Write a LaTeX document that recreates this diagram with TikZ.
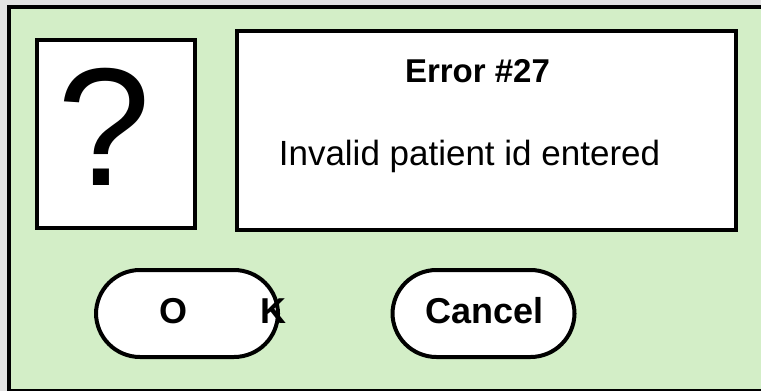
\documentclass[tikz,border=0pt]{standalone}
\usepackage{fontspec}
\setmainfont{Liberation Sans}
\definecolor{panelgreen}{RGB}{211,238,199}
\definecolor{outergrey}{RGB}{226,226,226}
\begin{document}
\begin{tikzpicture}[x=1pt,y=-1pt,
  box/.style={draw=black, line width=4.5pt, fill=white, inner sep=0pt},
  btn/.style={draw=black, line width=4pt, fill=white, rounded corners=44pt, inner sep=0pt, minimum width=182pt, minimum height=87pt},
  lbl/.style={inner sep=0pt, anchor=base, text=black}]
\useasboundingbox (0,0) rectangle (761,391);
\fill[outergrey] (0,0) rectangle (761,391);
\draw[fill=panelgreen, line width=4pt] (8.5,6.5) rectangle (766,391);
\node[box, minimum width=158pt, minimum height=188pt] (qbox) at (116,134) {};
\node[box, minimum width=499pt, minimum height=199pt] (mbox) at (486.5,130.5) {};
\node[btn] (okbtn) at (187,313.5) {};
\node[btn] (cancelbtn) at (483.5,313.5) {};
\node[lbl, font=\fontsize{168}{168}\selectfont] (qmark) at (104,185) {?};
\node[lbl, font=\fontsize{33}{33}\selectfont\bfseries] (title) at (477.5,82) {Error \#27};
\node[lbl, font=\fontsize{35}{35}\selectfont] (msg) at (469.5,165) {Invalid patient id entered};
\node[lbl, anchor=base west, font=\fontsize{36}{36}\selectfont\bfseries] (oktxtO) at (159.5,323) {O};
\node[lbl, anchor=base west, font=\fontsize{36}{36}\selectfont\bfseries] (oktxtK) at (260,323) {K};
\node[lbl, font=\fontsize{36}{36}\selectfont\bfseries] (canceltxt) at (484.5,323) {Cancel};
\end{tikzpicture}
\end{document}
